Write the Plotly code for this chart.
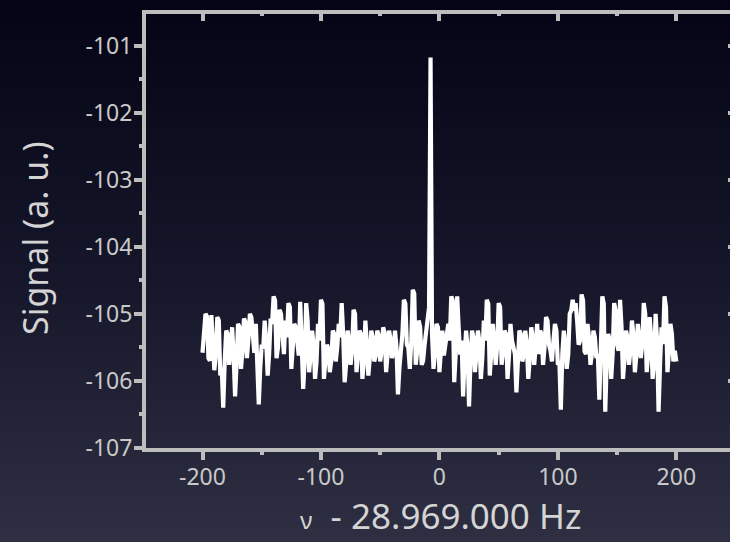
import struct
import zlib
import base64
import plotly.graph_objects as go

# Frequency offset grid (Hz), 1.25 Hz resolution, and measured signal (a. u.)
freq_hz = [-200 + 1.25 * i for i in range(321)]
signal = [
    -105.58, -105.30, -105.00, -105.04, -105.66, -105.70, -105.02, -105.45, -105.84, -105.60,
    -105.05, -105.10, -105.92, -105.80, -106.40, -105.70, -105.25, -105.30, -105.76, -105.50,
    -105.20, -105.62, -106.23, -105.75, -105.15, -105.20, -105.82, -105.55, -105.07, -105.12,
    -105.66, -105.38, -105.00, -105.05, -105.46, -105.58, -105.15, -105.68, -106.35, -105.80,
    -105.46, -105.52, -105.10, -105.40, -105.92, -105.60, -105.07, -105.15, -104.74, -104.80,
    -105.66, -105.50, -104.94, -105.00, -105.41, -105.60, -105.10, -105.35, -104.84, -104.90,
    -105.82, -105.55, -105.15, -105.20, -105.51, -105.62, -104.82, -105.40, -106.12, -105.70,
    -104.84, -105.10, -105.87, -105.62, -105.25, -105.45, -105.97, -105.72, -105.15, -105.40,
    -104.79, -104.85, -105.97, -105.70, -105.46, -105.52, -105.87, -105.68, -105.25, -105.30,
    -105.71, -105.50, -105.15, -105.35, -104.84, -105.30, -106.02, -105.75, -105.25, -105.40,
    -105.76, -105.55, -104.94, -105.00, -105.87, -105.60, -105.25, -105.30, -105.97, -105.70,
    -105.10, -105.45, -105.92, -105.65, -105.25, -105.35, -105.71, -105.62, -105.25, -105.32,
    -105.71, -105.55, -105.20, -105.28, -105.87, -105.60, -105.25, -105.38, -105.66, -105.55,
    -105.25, -105.50, -106.20, -105.80, -105.56, -105.30, -104.79, -104.85, -105.46, -105.50,
    -105.82, -105.40, -104.64, -104.70, -105.76, -105.55, -105.10, -105.20, -105.76, -105.70,
    -105.46, -105.30, -105.05, -104.90, -101.18, -105.30, -105.82, -105.60, -105.15, -105.20,
    -105.87, -105.55, -105.25, -105.62, -105.46, -105.30, -105.15, -105.40, -104.74, -104.80,
    -106.02, -105.60, -104.74, -105.20, -105.61, -105.40, -106.23, -105.65, -105.25, -105.50,
    -106.38, -105.70, -105.25, -105.35, -105.87, -105.60, -105.25, -105.42, -105.97, -105.65,
    -105.10, -105.40, -104.79, -104.85, -105.92, -105.58, -105.15, -105.40, -105.76, -105.48,
    -104.84, -104.90, -105.76, -105.55, -105.25, -105.30, -105.97, -105.62, -105.15, -105.40,
    -105.51, -105.60, -106.17, -105.70, -105.25, -105.30, -105.71, -105.60, -105.25, -105.45,
    -105.97, -105.68, -105.20, -105.35, -105.76, -105.50, -105.15, -105.60, -105.25, -105.30,
    -105.76, -105.50, -105.05, -105.10, -105.46, -105.55, -105.71, -105.40, -105.15, -105.25,
    -105.76, -105.70, -106.43, -105.60, -105.25, -105.45, -105.82, -105.60, -105.00, -104.95,
    -104.79, -104.95, -104.84, -105.10, -105.46, -105.40, -104.71, -104.80, -105.56, -105.60,
    -105.15, -105.35, -105.76, -105.60, -105.25, -105.35, -105.66, -105.60, -106.28, -105.50,
    -104.74, -104.85, -106.46, -105.70, -105.30, -105.40, -105.97, -105.60, -104.84, -104.95,
    -105.46, -105.55, -104.79, -105.20, -105.97, -105.65, -105.25, -105.35, -105.76, -105.55,
    -105.10, -105.30, -105.87, -105.62, -105.15, -105.40, -105.66, -105.45, -104.84, -105.00,
    -105.87, -105.60, -105.05, -105.35, -105.97, -105.70, -105.00, -105.40, -106.46, -105.75,
    -105.20, -105.45, -104.74, -104.90, -105.87, -105.55, -105.15, -105.30, -105.71, -105.55,
    -105.71,
]
x_ticks = [-200, -100, 0, 100, 200]
y_ticks = [-107, -106, -105, -104, -103, -102, -101]

X_RANGE = [-247.7, 245.3]
Y_RANGE = [-107.0, -100.53]

W, H = 730, 542
ML, MR, MT, MB = 146, 0, 14, 94
PW, PH = W - ML - MR, H - MT - MB

AXIS_GREY = "#bdbdbd"
LABEL_GREY = "#c9c9c9"
TITLE_GREY = "#d4d4d4"
FONT = "Noto Sans"


def px_to_paper(px, py):
    """Convert figure pixel coordinates to paper coordinates."""
    return (px - ML) / PW, 1 - (py - MT) / PH


def gradient_png(stops, n=256):
    """Build a 1-pixel-wide vertical gradient PNG as a data URI."""
    rows = b""
    for i in range(n):
        t = i / (n - 1)
        for k in range(len(stops) - 1):
            t0, c0 = stops[k]
            t1, c1 = stops[k + 1]
            if t0 <= t <= t1:
                f = (t - t0) / (t1 - t0)
                rgb = [round(a + (b - a) * f) for a, b in zip(c0, c1)]
                break
        rows += b"\x00" + bytes(rgb)

    def chunk(tag, data):
        return (struct.pack(">I", len(data)) + tag + data
                + struct.pack(">I", zlib.crc32(tag + data) & 0xFFFFFFFF))

    png = (b"\x89PNG\r\n\x1a\n"
           + chunk(b"IHDR", struct.pack(">IIBBBBB", 1, n, 8, 2, 0, 0, 0))
           + chunk(b"IDAT", zlib.compress(rows))
           + chunk(b"IEND", b""))
    return "data:image/png;base64," + base64.b64encode(png).decode()


background = gradient_png([
    (0.0, (4, 4, 22)),
    (0.5, (22, 22, 42)),
    (1.0, (46, 47, 66)),
])

fig = go.Figure()
fig.add_trace(go.Scatter(
    x=freq_hz, y=signal, mode="lines",
    line=dict(color="white", width=4.2),
    hoverinfo="skip", showlegend=False,
))
# Empty traces so the top and right frame axes get drawn
fig.add_trace(go.Scatter(x=[], y=[], xaxis="x2", yaxis="y",
                         showlegend=False, hoverinfo="skip"))
fig.add_trace(go.Scatter(x=[], y=[], xaxis="x", yaxis="y2",
                         showlegend=False, hoverinfo="skip"))

common_line = dict(showline=True, linecolor=AXIS_GREY, linewidth=4,
                   showgrid=False, zeroline=False)

ytx, yty = px_to_paper(35, 238)
xtx, xty = px_to_paper(440, 541)

fig.update_layout(
    width=W, height=H,
    margin=dict(l=ML, r=MR, t=MT, b=MB, pad=0),
    paper_bgcolor="#0b0b1f",
    plot_bgcolor="rgba(0,0,0,0)",
    font=dict(family=FONT, color=LABEL_GREY),
    images=[dict(
        source=background, xref="paper", yref="paper",
        x=-ML / PW, y=1 + MT / PH, sizex=W / PW, sizey=H / PH,
        xanchor="left", yanchor="top", sizing="stretch", layer="below",
    )],
    annotations=[
        dict(text="Signal (a. u.)", textangle=-90, xref="paper", yref="paper",
             x=ytx, y=yty, xanchor="center", yanchor="middle", showarrow=False,
             font=dict(size=34, color=TITLE_GREY)),
        dict(text='<span style="font-size:24px">ν</span>  - 28.969.000 Hz',
             xref="paper", yref="paper", x=xtx, y=xty,
             xanchor="center", yanchor="bottom", showarrow=False,
             font=dict(size=35, color=TITLE_GREY)),
    ],
    xaxis=dict(
        range=X_RANGE, tickvals=x_ticks, ticktext=[str(v) for v in x_ticks],
        ticks="outside", ticklen=8, tickwidth=3.5, tickcolor=AXIS_GREY,
        tickfont=dict(size=23, color=LABEL_GREY), ticklabelstandoff=-3,
        minor=dict(dtick=50, tick0=0, ticks="outside", ticklen=3,
                   tickwidth=3.5, tickcolor=AXIS_GREY),
        **common_line,
    ),
    xaxis2=dict(
        range=X_RANGE, overlaying="x", anchor="y", side="top",
        tickvals=x_ticks, showticklabels=False,
        ticks="inside", ticklen=7, tickwidth=3.5, tickcolor=AXIS_GREY,
        minor=dict(dtick=50, tick0=0, ticks="inside", ticklen=2,
                   tickwidth=3.5, tickcolor=AXIS_GREY),
        **common_line,
    ),
    yaxis=dict(
        range=Y_RANGE, tickvals=y_ticks, ticktext=[str(v) for v in y_ticks],
        ticks="outside", ticklen=8, tickwidth=3.5, tickcolor=AXIS_GREY,
        tickfont=dict(size=23, color=LABEL_GREY), ticklabelstandoff=-3,
        minor=dict(dtick=0.5, tick0=0, ticks="outside", ticklen=3,
                   tickwidth=3.5, tickcolor=AXIS_GREY),
        **common_line,
    ),
    yaxis2=dict(
        range=Y_RANGE, overlaying="y", anchor="x", side="right",
        tickvals=y_ticks, showticklabels=False, showline=False,
        ticks="inside", ticklen=2, tickwidth=3.5, tickcolor=AXIS_GREY,
        showgrid=False, zeroline=False,
    ),
)

fig.write_html("out.html")
